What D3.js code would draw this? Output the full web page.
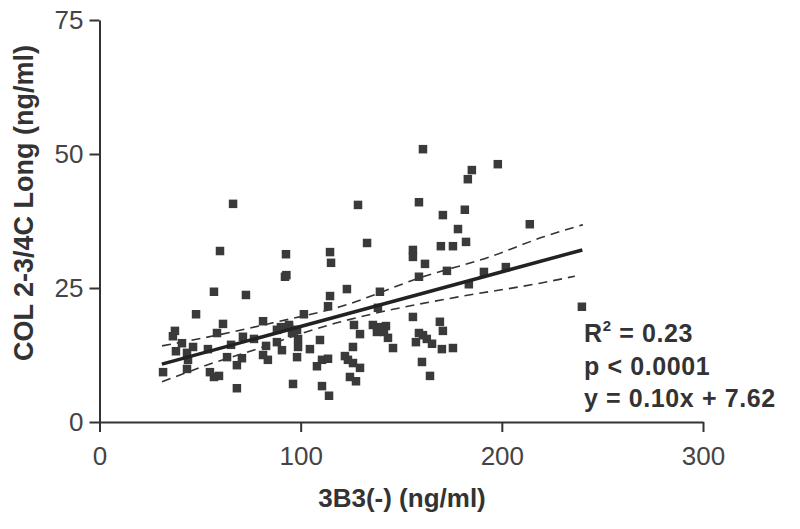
<!DOCTYPE html>
<html>
<head>
<meta charset="utf-8">
<script src="https://d3js.org/d3.v7.min.js"></script>
<style>
  html, body { margin: 0; padding: 0; background: #fff; }
  svg { display: block; font-family: 'Liberation Sans', Arial, sans-serif; }
</style>
</head>
<body>
<div id="chart"></div>
<script>
// 3B3(-) values (ng/ml)
const xVals = [
  66.4, 59.9, 56.9, 72.8, 92.7, 92.2, 48.0, 37.5, 36.5, 61.4, 58.4, 81.3,
  41.0, 38.0, 46.5, 43.5, 44.0, 53.9, 65.4, 71.3, 76.8, 82.8, 81.3, 83.7,
  88.2, 94.2, 88.2, 90.7, 63.4, 70.8, 68.3, 31.6, 43.5, 54.9, 56.9, 59.4,
  68.3, 128.5, 158.8, 133.0, 114.6, 115.1, 155.8, 155.8, 161.8, 158.8, 123.0, 114.6,
  139.4, 113.6, 101.6, 138.4, 155.8, 90.2, 94.2, 95.7, 98.2, 98.7, 98.7, 98.2,
  104.6, 109.6, 126.5, 129.5, 135.9, 139.4, 142.4, 137.9, 141.4, 143.4, 145.9, 126.0,
  122.0, 123.5, 126.0, 129.5, 110.6, 113.6, 108.1, 124.5, 127.5, 96.2, 110.6, 114.1,
  158.8, 160.8, 162.7, 157.3, 160.3, 164.3, 160.8, 185.1, 183.1, 198.0, 170.7, 181.6,
  178.2, 213.9, 169.7, 175.7, 182.2, 172.7, 191.1, 202.0, 183.6, 239.8, 169.2, 170.7,
  165.3, 170.2, 175.7, 92.9
]
// COL 2-3/4C Long values (ng/ml)
const yVals = [
  40.7, 31.9, 24.3, 23.7, 31.3, 27.1, 20.1, 17.0, 16.0, 18.3, 16.6, 18.8,
  14.7, 13.2, 14.0, 12.9, 11.6, 13.6, 14.4, 15.9, 15.5, 14.2, 12.5, 11.6,
  17.2, 17.7, 14.9, 13.4, 12.1, 11.9, 10.6, 9.3, 9.9, 9.3, 8.4, 8.6,
  6.3, 40.5, 41.0, 33.4, 31.7, 29.7, 32.1, 30.8, 29.5, 27.1, 24.8, 23.5,
  24.3, 21.6, 20.1, 21.3, 19.6, 17.7, 18.1, 16.6, 17.2, 15.5, 14.0, 12.1,
  13.6, 15.3, 18.1, 16.4, 18.1, 17.7, 17.9, 16.8, 16.8, 15.7, 13.8, 14.0,
  12.3, 11.6, 11.0, 10.1, 11.6, 11.8, 10.4, 8.4, 7.6, 7.1, 6.7, 4.9,
  16.6, 16.2, 15.5, 14.9, 11.2, 8.6, 50.9, 47.0, 45.3, 48.1, 38.6, 39.6,
  36.0, 36.9, 32.8, 32.8, 33.6, 28.2, 28.0, 28.9, 25.7, 21.5, 18.7, 17.0,
  14.6, 13.6, 13.8, 27.4
]

// fitted line ends and 95% confidence band
const fitX = [31, 240]
const fitY = [10.8, 32.1]
const upperX = [31.1, 58.4, 86.2, 119.5, 160.8, 194.0, 220.4, 240.3]
const upperY = [14.2, 16.2, 18.5, 21.5, 27.1, 30.8, 34.5, 36.8]
const lowerX = [31.1, 56.4, 79.8, 101.1, 118.0, 144.4, 177.7, 219.0, 236.3]
const lowerY = [7.5, 11.0, 13.8, 16.6, 18.5, 20.9, 23.3, 25.9, 27.2]

const xTicks = [0, 100, 200, 300]
const yTicks = [0, 25, 50, 75]
const statLines = ['R', 'p < 0.0001', 'y = 0.10x + 7.62']

const width = 800
const height = 529
const margin = { top: 20, right: 97, bottom: 107, left: 99.5 }
const ink = '#333'

const x = d3.scaleLinear().domain([0, 300]).range([margin.left, width - margin.right])
const y = d3.scaleLinear().domain([0, 75]).range([height - margin.bottom, margin.top])

const svg = d3.select('#chart').append('svg')
  .attr('width', width)
  .attr('height', height)

// axes
const xAxis = svg.append('g')
  .attr('transform', `translate(0,${y(0)})`)
  .call(d3.axisBottom(x).tickValues(xTicks).tickSize(10).tickSizeOuter(0).tickPadding(15))
const yAxis = svg.append('g')
  .attr('transform', `translate(${x(0)},0)`)
  .call(d3.axisLeft(y).tickValues(yTicks).tickSize(10).tickSizeOuter(0).tickPadding(6))

;[xAxis, yAxis].forEach(g => {
  g.select('.domain').attr('stroke', ink).attr('stroke-width', 2)
  g.selectAll('.tick line').attr('stroke', ink).attr('stroke-width', 2)
  g.selectAll('.tick text')
    .attr('fill', '#444')
    .attr('font-size', 26)
    .attr('font-family', "'Liberation Sans', Arial, sans-serif")
})

// confidence band
const line = d3.line().curve(d3.curveMonotoneX)
const bands = [
  upperX.map((d, i) => [x(d), y(upperY[i])]),
  lowerX.map((d, i) => [x(d), y(lowerY[i])])
]
svg.append('g').selectAll('path')
  .data(bands)
  .join('path')
  .attr('d', line)
  .attr('fill', 'none')
  .attr('stroke', ink)
  .attr('stroke-width', 1.6)
  .attr('stroke-dasharray', '9,6')

// points
const size = 8.5
svg.append('g').selectAll('rect')
  .data(xVals.map((d, i) => [d, yVals[i]]))
  .join('rect')
  .attr('x', d => x(d[0]) - size / 2)
  .attr('y', d => y(d[1]) - size / 2)
  .attr('width', size)
  .attr('height', size)
  .attr('fill', '#3a3a3a')

// regression line
svg.append('path')
  .attr('d', d3.line()(fitX.map((d, i) => [x(d), y(fitY[i])])))
  .attr('fill', 'none')
  .attr('stroke', '#222')
  .attr('stroke-width', 3.5)

// axis titles
svg.append('text')
  .attr('x', 402)
  .attr('y', 507)
  .attr('text-anchor', 'middle')
  .attr('font-size', 26)
  .attr('font-weight', 'bold')
  .attr('fill', ink)
  .text('3B3(-) (ng/ml)')

svg.append('text')
  .attr('transform', 'translate(33,203) rotate(-90)')
  .attr('text-anchor', 'middle')
  .attr('font-size', 27)
  .attr('font-weight', 'bold')
  .attr('fill', ink)
  .text('COL 2-3/4C Long (ng/ml)')

// stats
const stats = svg.append('g')
  .attr('font-size', 25)
  .attr('font-weight', 'bold')
  .attr('letter-spacing', 0.6)
  .attr('fill', ink)
const r2 = stats.append('text').attr('x', 584).attr('y', 342)
r2.append('tspan').text(statLines[0])
r2.append('tspan').attr('font-size', 15).attr('dy', -11).text('2')
r2.append('tspan').attr('dy', 11).text(' = 0.23')
stats.append('text').attr('x', 584).attr('y', 375).text(statLines[1])
stats.append('text').attr('x', 584).attr('y', 407).text(statLines[2])
</script>
</body>
</html>
